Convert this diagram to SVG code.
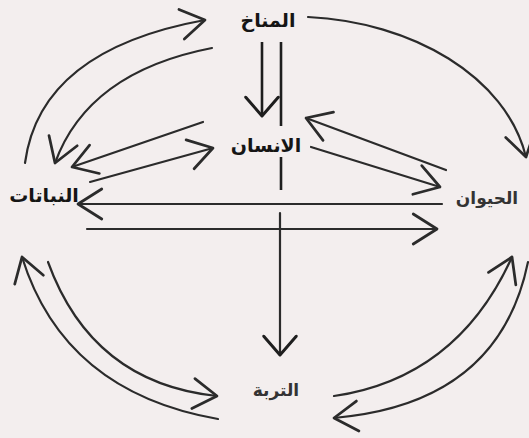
<svg xmlns="http://www.w3.org/2000/svg" width="529" height="438" viewBox="0 0 529 438">
<style>
.bg{fill:#f3eeee}
.c{fill:none;stroke:#2b2b2b;stroke-width:2.2;stroke-linecap:round;stroke-linejoin:round}
.v{fill:none;stroke:#1e1e1e;stroke-width:2.6;stroke-linecap:butt}
.big{marker-end:url(#ah)}
.sm{marker-end:url(#ahs)}
.lbl{font-family:"DejaVu Sans",sans-serif;font-weight:bold;text-anchor:middle}
.k{fill:#151515;font-size:19px}
.g{fill:#333;font-size:17px}
</style>
<defs>
<marker id="ah" markerUnits="userSpaceOnUse" markerWidth="40" markerHeight="40" refX="0" refY="0" viewBox="-22 -16 26 32" orient="auto" overflow="visible">
<path d="M-19,-12 L0,0 L-19,12" fill="none" stroke="#2b2b2b" stroke-width="2.2" stroke-linecap="round" stroke-linejoin="round"/>
</marker>
<marker id="ahs" markerUnits="userSpaceOnUse" markerWidth="40" markerHeight="40" refX="0" refY="0" viewBox="-22 -16 26 32" orient="auto" overflow="visible">
<path d="M-15,-13 L0,0 L-15,13" fill="none" stroke="#1e1e1e" stroke-width="2.4" stroke-linecap="round" stroke-linejoin="round"/>
</marker>
</defs>
<rect class="bg" x="0" y="0" width="529" height="438"/>
<g id="connectors">
<path class="v sm" d="M262,42 V116"/>
<path class="v" d="M281,42 V126"/>
<path class="v" d="M281,157 V190"/>
<path class="c sm" d="M280,213 V355"/>
<path class="c big" d="M442,204 H78"/>
<path class="c big" d="M87,229 H437"/>
<path class="c big" d="M203,122 L72,167"/>
<path class="c big" d="M90,182 L213,148"/>
<path class="c big" d="M311,147 L440,187"/>
<path class="c big" d="M446,170 L306,118"/>
<path class="c big" d="M25,163 Q40,50 205,20"/>
<path class="c big" d="M212,48 Q88,72 55,163"/>
<path class="c big" d="M308,17 C412,22 506,76 526,157"/>
<path class="c big" d="M334,396 Q457,378 512,257"/>
<path class="c big" d="M528,262 Q499,404 334,418"/>
<path class="c big" d="M48,262 Q92,383 217,396"/>
<path class="c big" d="M218,419 Q64,392 22,257"/>
</g>
<g id="climate"><text class="lbl k" x="268" y="27">المناخ</text></g>
<g id="human"><text class="lbl k" x="266" y="152">الانسان</text></g>
<g id="plants"><text class="lbl k" x="44" y="202">النباتات</text></g>
<g id="animals"><text class="lbl g" x="487" y="204">الحيوان</text></g>
<g id="soil"><text class="lbl g" x="276" y="396">التربة</text></g>
</svg>
